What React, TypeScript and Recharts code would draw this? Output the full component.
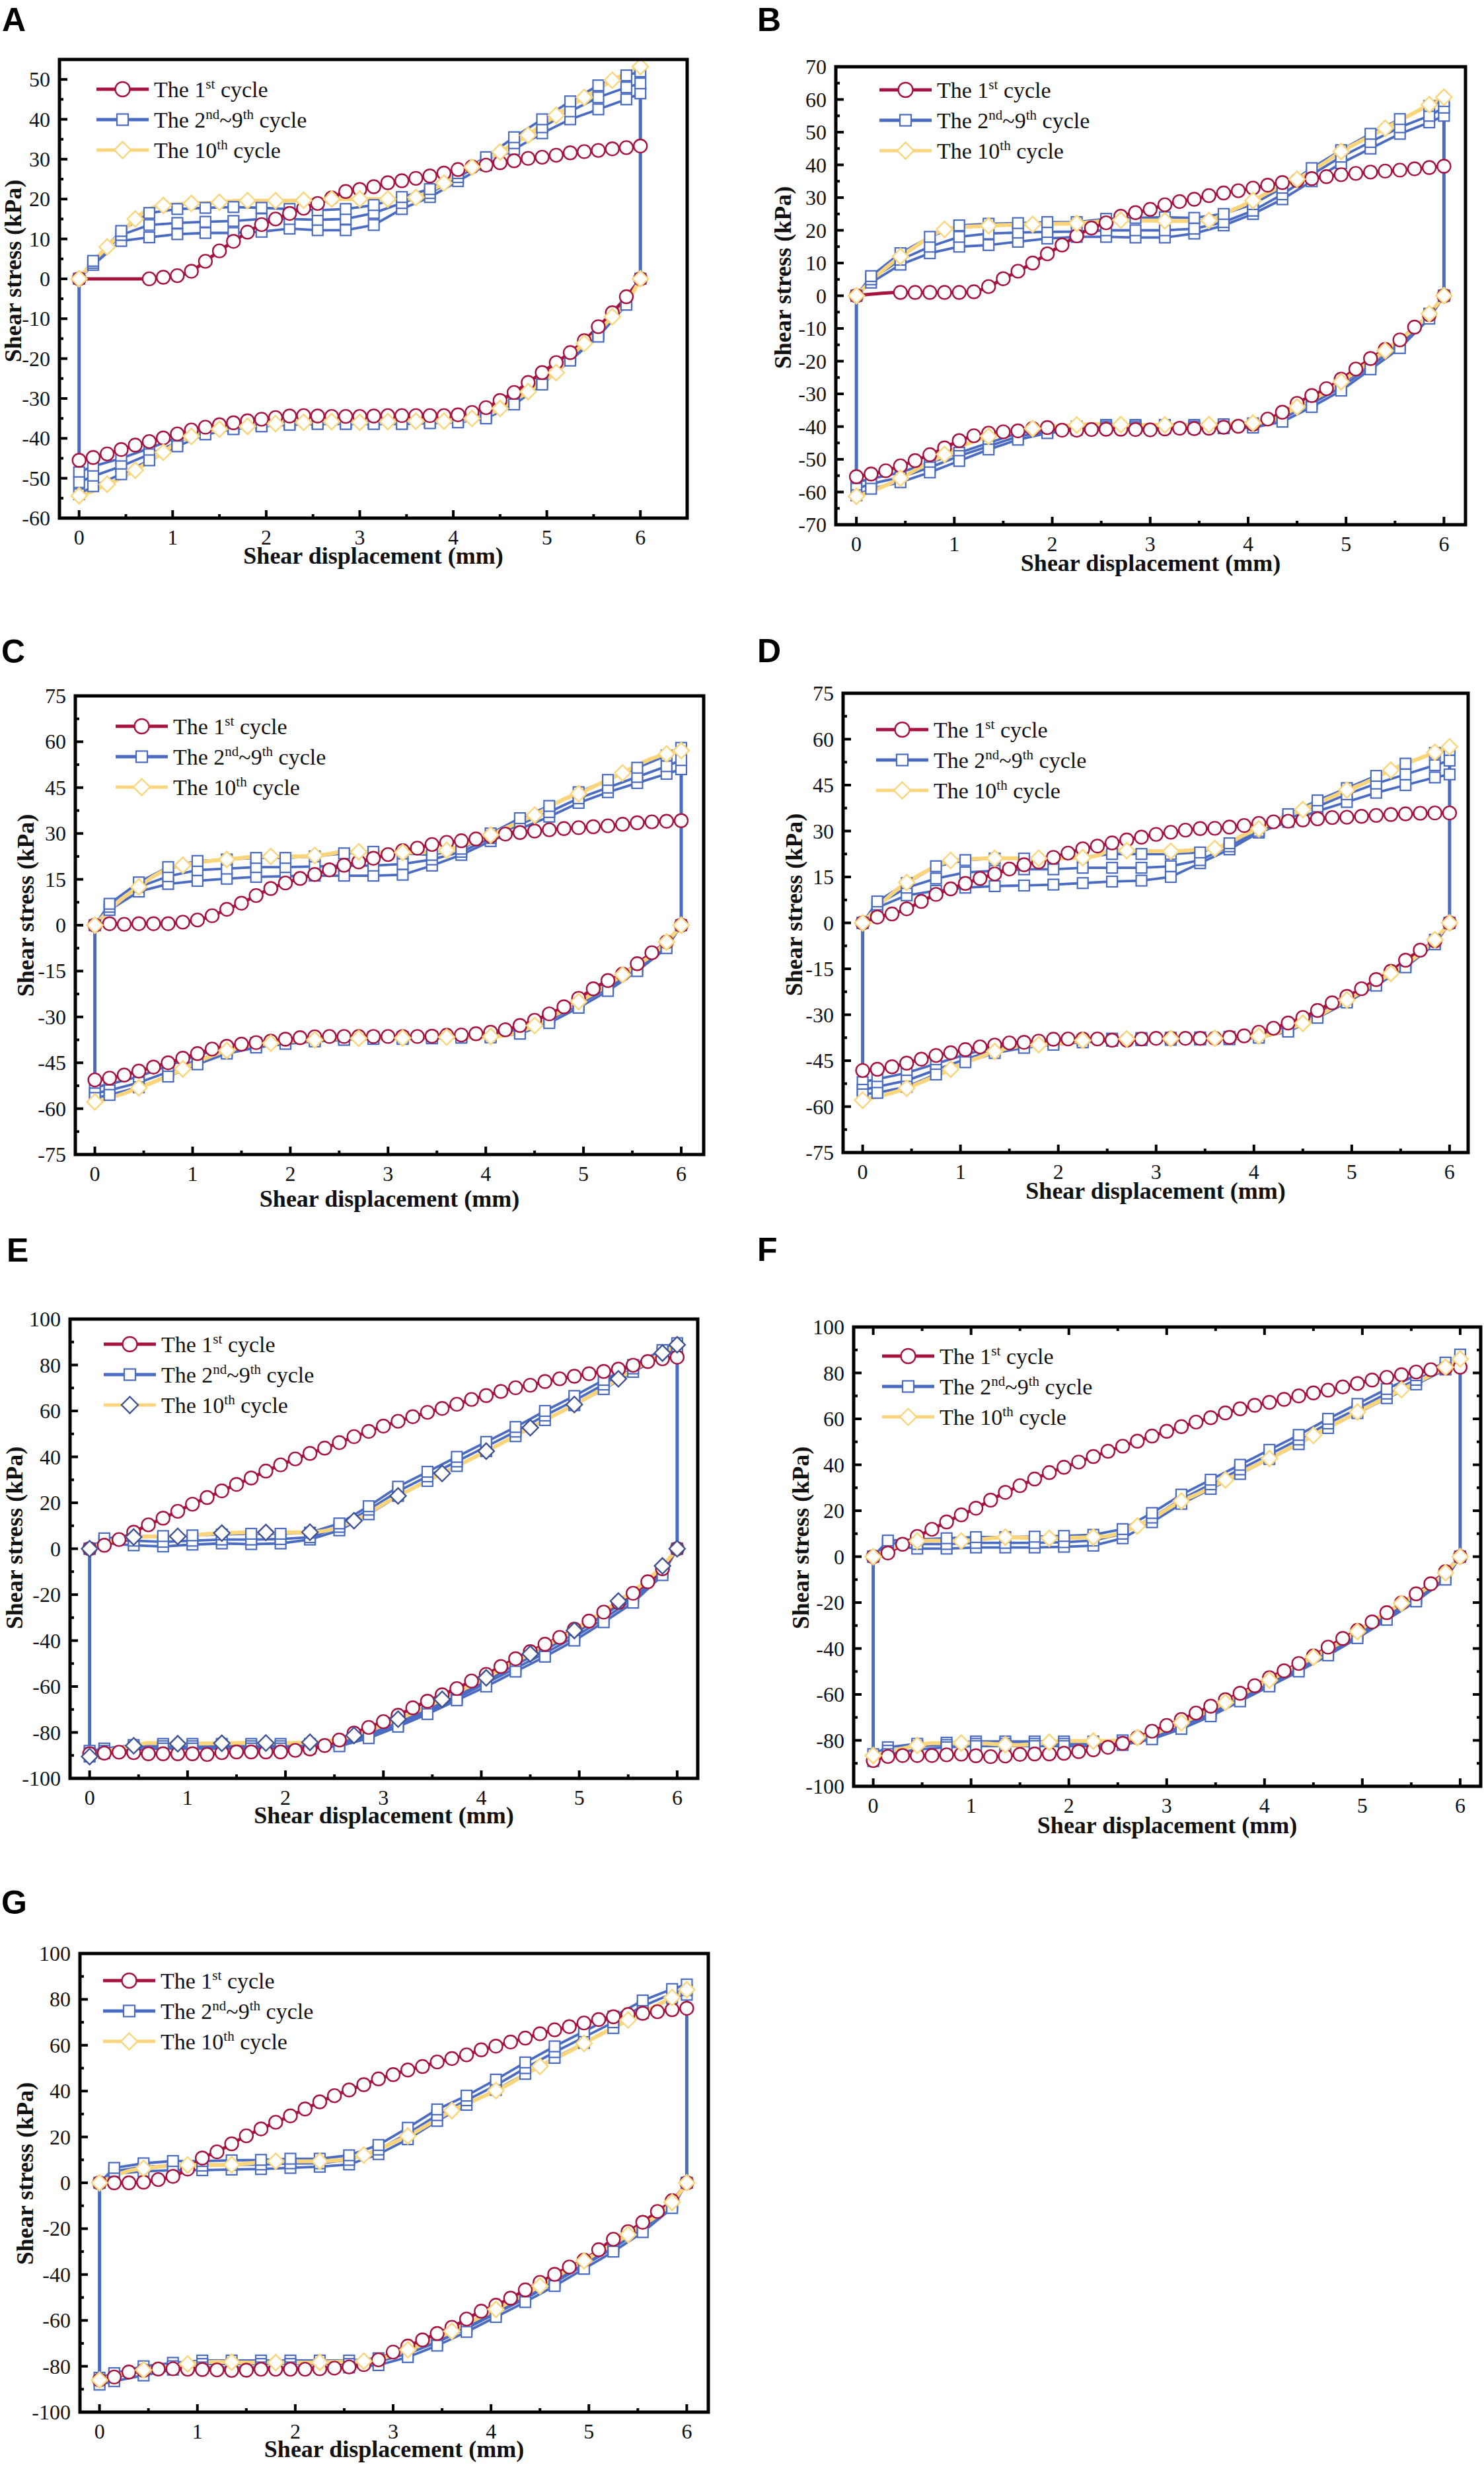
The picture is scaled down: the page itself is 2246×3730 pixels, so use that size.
import React from 'react';
import { LineChart, Line, XAxis, YAxis } from 'recharts';

const RED = '#A6133F';
const BLUE = '#4A6BC2';
const YEL = '#FAD57C';
const DIA_DARK = '#3F5293';
const SERIF = "'Liberation Serif', 'Times New Roman', Times, serif";
const SANS = "'Liberation Sans', Arial, Helvetica, sans-serif";

// ---------- shared x grids and ticks ----------
const X15 = [0,0.15,0.3,0.45,0.6,0.75,0.9,1.05,1.2,1.35,1.5,1.65,1.8,1.95,2.1,2.25,2.4,2.55,2.7,2.85,3,3.15,3.3,3.45,3.6,3.75,3.9,4.05,4.2,4.35,4.5,4.65,4.8,4.95,5.1,5.25,5.4,5.55,5.7,5.85,6];
const XB = [0,0.15,0.45,0.75,1.05,1.35,1.65,1.95,2.25,2.55,2.85,3.15,3.45,3.75,4.05,4.35,4.65,4.95,5.25,5.55,5.85,6];
const X_RED_A = [0,0.75,0.9,1.05,1.2,1.35,1.5,1.65,1.8,1.95,2.1,2.25,2.4,2.55,2.7,2.85,3,3.15,3.3,3.45,3.6,3.75,3.9,4.05,4.2,4.35,4.5,4.65,4.8,4.95,5.1,5.25,5.4,5.55,5.7,5.85,6];
const X_RED_B = [0,0.45,0.6,0.75,0.9,1.05,1.2,1.35,1.5,1.65,1.8,1.95,2.1,2.25,2.4,2.55,2.7,2.85,3,3.15,3.3,3.45,3.6,3.75,3.9,4.05,4.2,4.35,4.5,4.65,4.8,4.95,5.1,5.25,5.4,5.55,5.7,5.85,6];
const X_TICKS = [0,0.5,1,1.5,2,2.5,3,3.5,4,4.5,5,5.5,6];
const Y_TICKS_A = [-60,-55,-50,-45,-40,-35,-30,-25,-20,-15,-10,-5,0,5,10,15,20,25,30,35,40,45,50];
const Y_TICKS_B = [-70,-65,-60,-55,-50,-45,-40,-35,-30,-25,-20,-15,-10,-5,0,5,10,15,20,25,30,35,40,45,50,55,60,65,70];
const Y_TICKS_CD = [-75,-67.5,-60,-52.5,-45,-37.5,-30,-22.5,-15,-7.5,0,7.5,15,22.5,30,37.5,45,52.5,60,67.5,75];
const Y_TICKS_EFG = [-100,-90,-80,-70,-60,-50,-40,-30,-20,-10,0,10,20,30,40,50,60,70,80,90,100];

// ---------- Panel A ----------
const A_RED_UP = [0,0,0.4,0.8,1.9,4.4,7,9.4,11.7,13.6,15,16.4,17.7,18.9,20.3,21.9,22.4,23.1,24.1,24.6,25.2,25.8,26.5,27.4,28.1,28.5,29.1,29.6,30.2,30.5,31,31.6,31.9,32.2,32.6,32.9,33.3];
const A_RED_LOW = [-45.5,-44.8,-43.9,-42.8,-41.7,-40.8,-39.9,-38.9,-37.9,-37.2,-36.6,-36.1,-35.6,-35.2,-34.8,-34.4,-34.3,-34.4,-34.5,-34.5,-34.5,-34.4,-34.3,-34.3,-34.3,-34.3,-34.3,-34.1,-33.5,-32.3,-30.5,-28.5,-26,-23.5,-21,-18.5,-15.5,-12,-8.5,-4.5,0];
const A_Y10_UP = [0,4.3,8,11.5,15,17.5,18.4,18.7,18.9,19,19.2,19.5,19.6,19.6,19.6,19.6,19.7,19.9,20,20,20,20,20,20,20.4,22,24,26.5,28,30,31.8,34,36,38.6,41,43.3,45.5,47.6,49.8,51.5,53.2];
const A_Y10_LOW = [-54.4,-53.2,-51.5,-50,-48,-45.8,-43.5,-41,-39.5,-38.3,-37.7,-37.3,-37,-36.8,-36.3,-36,-36,-36,-35.8,-35.8,-36,-36,-35.8,-35.7,-35.7,-35.7,-35.7,-35.6,-35,-34.3,-32.5,-30.5,-28.3,-25.8,-23.5,-19.5,-16.2,-13.2,-9.5,-6,0];
const A_B1_UP = [0,3.5,9.5,10.4,11.2,11.5,11.5,11.8,12.6,12.2,12.2,13.5,17.5,20.5,24.5,28.5,32.5,36.5,40,42.5,45,46.5];
const A_B2_UP = [0,4,11,13.5,14,14.3,14.5,15,15,14.8,15,16.5,19,21.5,25.5,29.5,34,38,42,45.5,48,49];
const A_B3_UP = [0,4.5,12,16.5,17.5,17.8,18,17.8,17.5,17.2,17.5,18.5,20.5,22.5,26.5,30.5,35.5,40,44.5,48.5,51,52];
const A_B1_LOW = [-48.5,-47,-45,-42.5,-39.8,-38,-37.2,-36.6,-36.3,-36,-36,-36,-36,-35.8,-35.5,-34,-30.5,-25.5,-19.5,-13.5,-5.5,0];
const A_B2_LOW = [-51,-49.5,-47,-44,-41,-38.5,-37.4,-36.8,-36.4,-36.2,-36.2,-36.2,-36.2,-36,-35.8,-34.5,-31,-26,-20,-14,-6,0];
const A_B3_LOW = [-54,-52,-49,-45.5,-42,-39,-37.7,-37,-36.6,-36.4,-36.4,-36.4,-36.4,-36.2,-36,-35,-31.5,-26.5,-20.5,-14.5,-6.5,0];

// ---------- Panel B ----------
const B_RED_UP = [0,1,1,1,1,1,1.2,2.8,5.2,7.5,10,12.8,15.5,18.3,20.7,22.3,24.3,25.4,26.4,27.8,28.8,29.5,30.6,31.4,32.1,32.9,33.8,34.6,35.2,35.8,36.4,37,37.4,37.8,38.1,38.4,38.8,39.2,39.6];
const B_RED_LOW = [-55.3,-54.5,-53.5,-52,-50.4,-48.6,-46.5,-44.3,-42.8,-42,-41.6,-41.3,-40.6,-40.3,-41.1,-41.1,-40.9,-40.8,-40.8,-40.9,-41,-40.7,-40.5,-40.6,-40.5,-40.2,-39.9,-39.3,-37.7,-35.6,-32.9,-30.5,-28.4,-25.5,-22.4,-19.2,-16.4,-13.5,-9.6,-5.8,0];
const B_Y10_UP = [0,4.5,8.5,12,15,18,20.3,20.9,21.2,21.4,21.6,21.7,21.8,21.9,22,22.1,22.5,22.9,23.1,23,23,22.9,22.9,22.9,23,25,27,29.1,31.5,33.5,35.6,38.3,41,44.1,46.5,48.8,51.2,53.6,56,58.4,60.7];
const B_Y10_LOW = [-61.3,-59.8,-58,-55.8,-53.3,-51,-48.5,-46.2,-44.5,-43,-41.6,-41,-40.6,-40.1,-39.8,-39.5,-39.3,-39.3,-39.4,-39.5,-39.5,-39.5,-39.5,-39.4,-39.4,-39.2,-39.1,-38.9,-38.5,-36.5,-34,-31.6,-29.5,-26.3,-23.2,-20,-16.8,-13.3,-10,-5.5,0];
const B_B1_UP = [0,4,9.5,13,15,15.5,16.5,17.5,18,18,17.8,17.8,19,21.5,25,29.5,35,40.5,45,49.5,53,55];
const B_B2_UP = [0,5,11,15,18,19,19.3,19.5,19.6,20,20,20,20.5,22.5,26,31,37,42.5,47,51.5,55,57.5];
const B_B3_UP = [0,6,13,18,21.5,22,22.2,22.5,22.5,23.5,23.8,24,23.8,25,28,33,39,44.5,49.5,54,58,59.5];
const B_B1_LOW = [-57,-56,-54,-51,-48,-45,-42,-41,-40,-39.5,-39.5,-39.5,-39.5,-39.3,-39,-36.5,-32,-27,-20.5,-14,-5.5,0];
const B_B2_LOW = [-59,-57.5,-55.5,-52.5,-49,-46,-43,-41.5,-40.5,-40,-40,-40,-40,-40,-39.8,-37.5,-33,-28,-21.5,-15,-6,0];
const B_B3_LOW = [-61,-59,-57,-54,-50.5,-47,-44,-42,-41,-40.5,-40.5,-40.5,-40.5,-40.5,-40.3,-38.5,-34,-29,-22.5,-16,-7,0];

// ---------- Panel C ----------
const C_RED_UP = [0,0.5,0.3,0.5,0.5,0.5,1,1.7,3.1,5.2,7.2,9.7,12,13.8,15.3,16.6,18.1,19.6,20.7,21.9,23.1,24.4,25.2,26.4,27.1,27.6,28.2,29.1,29.8,30.3,30.8,31.2,31.6,31.9,32.2,32.5,33,33.5,33.8,34,34.2];
const C_RED_LOW = [-50.6,-50,-49,-47.7,-46.4,-45,-43.5,-42,-40.5,-39.6,-38.9,-38.4,-37.9,-37.3,-36.8,-36.5,-36.4,-36.4,-36.4,-36.4,-36.4,-36.4,-36.4,-36.3,-36,-35.9,-35.5,-35,-34.2,-32.8,-31.1,-29,-26.7,-23.9,-20.8,-18.1,-16,-12.6,-9,-5.5,0];
const C_Y10_UP = [0,5,9.2,12.5,16,18.4,19.6,20.5,21.1,21.5,22,22.4,22.5,22.5,22.5,22.8,23.3,24.1,24,23.9,23.8,23.8,23.8,24,24.5,26,27.5,29.5,31.7,33.9,36,38.7,41.2,43,45.3,47.5,49.8,52.3,54.5,56,57.1];
const C_Y10_LOW = [-57.8,-56.5,-55,-53.2,-51.3,-49.3,-47,-44.7,-42.6,-41,-39.8,-39.1,-38.6,-38.1,-37.8,-37.5,-37.2,-37,-37,-37,-37,-36.9,-36.7,-36.6,-36.6,-36.6,-36.6,-36.4,-36,-34.8,-32.8,-30.2,-27.8,-25,-22.4,-19.5,-16.2,-13,-9.8,-5.5,0];
const C_B1_UP = [0,5,11,13.5,14.5,15.2,15.8,16,16.2,16.2,16.2,16.5,19.5,23,27.5,31.5,35.5,40,43.5,46.5,49.5,51];
const C_B2_UP = [0,6,12.5,16,18,18.5,19,19,19.2,19.5,19.5,20,21.5,24,28.5,33,37,41.5,45,48.5,52,54];
const C_B3_UP = [0,7,14,19,21,21.5,22,22,22.5,23.5,24,23.5,23,25,30,35,39,43.5,47.5,51.5,55.5,58];
const C_B1_LOW = [-53,-52,-49.5,-46,-42.5,-40,-38.5,-37.5,-37,-36.8,-36.6,-36.6,-36.5,-36.3,-36,-34,-30,-25,-19.5,-13.5,-6,0];
const C_B2_LOW = [-55,-54,-51.5,-48,-44,-41,-39.5,-38.2,-37.6,-37.2,-37,-37,-36.8,-36.6,-36.4,-35,-31,-26,-20.5,-14.5,-7,0];
const C_B3_LOW = [-56.5,-55.5,-53,-49.5,-45.5,-42,-40,-38.8,-38,-37.5,-37.2,-37.2,-37,-36.8,-36.7,-35.5,-32,-27,-21.5,-15,-7.5,0];

// ---------- Panel D ----------
const D_RED_UP = [0,1.9,2.9,4.6,7,9.3,11.1,12.9,14.5,16,17.6,19,19.9,21.4,22.8,24.2,25.1,26.1,27.1,28,28.9,29.6,30.3,30.8,30.9,31.3,31.8,32.5,33,33.2,33.6,34,34.4,34.5,34.8,35.1,35.4,35.6,35.8,35.9,35.9];
const D_RED_LOW = [-48.2,-47.8,-47,-45.8,-44.5,-43.3,-42.4,-41.4,-40.5,-39.9,-39.2,-39,-38.6,-38,-37.9,-37.9,-37.9,-38.3,-38.3,-37.9,-37.7,-37.7,-37.7,-37.7,-37.7,-37.4,-36.9,-35.7,-34.4,-32.7,-30.9,-28.6,-26.1,-24,-21.5,-18.5,-15.8,-12.2,-8.9,-5.9,0];
const D_Y10_UP = [0,5,9.5,13.2,16,18.5,20.4,20.8,21,21.1,21.1,21.1,21.1,21.1,21.2,21.3,22,23.8,23.6,23.5,23.4,23.4,23.6,24,24.3,26.3,28.8,30.7,33,35,37,39.2,41.2,43.4,45.2,47.5,49.9,52,53.8,55.7,57.5];
const D_Y10_LOW = [-57.9,-56.8,-55.5,-54,-52,-50,-47.8,-45.6,-43.8,-42,-40.8,-40.2,-39.8,-39.6,-39,-38.4,-37.9,-37.9,-37.9,-37.9,-37.8,-37.8,-37.7,-37.7,-37.7,-37.7,-37.3,-37,-36.3,-34.6,-32.8,-30.6,-27.8,-25.2,-22.5,-19.5,-16.5,-13.5,-10,-5.5,0];
const D_B1_UP = [0,5,9,10.5,11.5,12,12.2,12.5,13,13.5,13.8,15,19.5,24,29.5,33,36.5,39.5,42.5,45,47.5,48.5];
const D_B2_UP = [0,6,11.5,14.5,16.5,17,17.5,17.5,18,18,18,18.5,20.5,25,30,34,38,42,45.5,48.5,51.5,53];
const D_B3_UP = [0,7,13,18.5,20.5,21,21,21,21.5,22.5,22.5,22.5,23,26,31,35.5,40,44,48,52,55.5,56.5];
const D_B1_LOW = [-52,-51,-49,-46,-43,-40.5,-39.5,-38.8,-38.2,-37.8,-37.6,-37.5,-37.4,-37.2,-36.5,-34,-29.5,-24.5,-19,-13,-5.5,0];
const D_B2_LOW = [-54.5,-53.5,-51.5,-48,-44.5,-41.5,-40.2,-39.3,-38.6,-38.2,-38,-37.8,-37.8,-37.6,-37,-35,-30.5,-25.5,-20,-14,-6.5,0];
const D_B3_LOW = [-56,-55.5,-53.5,-49.5,-45.5,-42.5,-40.8,-39.8,-39,-38.5,-38.3,-38.2,-38.1,-38,-37.5,-35.5,-31,-26,-20.5,-14.5,-7,0];

// ---------- Panel E ----------
const E_RED_UP = [0,1.5,4,7.2,10.4,13.3,16.3,19.4,22.3,25.2,28,30.8,33.8,36.5,39.1,41.5,43.8,46.2,48.8,51.1,53.4,55.5,57.5,59.4,61.1,62.9,65,66.7,68.5,70.1,71.2,72.8,74,75.1,76.2,77.2,78.2,79.9,81.5,82.7,83.4];
const E_RED_LOW = [-89.3,-89,-88.6,-88.8,-89.3,-89.3,-89.3,-89.3,-89.6,-88.8,-88.5,-88.5,-88.5,-88.5,-87.8,-87.2,-85.7,-83.3,-80.3,-77.8,-75.3,-72.5,-69.3,-66.4,-63.6,-60.9,-57.6,-54.7,-51.3,-47.9,-44.8,-41.6,-38.6,-35,-31.5,-27.6,-23.4,-19.4,-14.4,-8.7,0];
const E_Y10_UP = [0,2.5,4.3,5.1,5.3,5.4,5.4,5.8,6.4,6.8,7,7.1,7.1,7.1,7.1,7.2,7.8,9.5,12.2,15.5,19.5,23,26.3,29.6,32.8,36,39.2,42.5,45.8,49.3,52.7,56,59.3,62.8,66.3,70,74,77.8,81.5,85.2,88.8];
const E_Y10_LOW = [-90.5,-88.3,-87,-85.8,-84.6,-84.7,-84.9,-84.9,-84.8,-84.7,-84.6,-84.6,-84.6,-84.6,-84.5,-84.3,-83.9,-83,-81.3,-79.2,-76.8,-74.2,-71.5,-68.6,-65.6,-62.5,-59.4,-56.2,-52.5,-49,-45.8,-42.4,-39,-35.6,-31.2,-27.2,-22.8,-18.5,-13.5,-7.5,0];
const E_B1_UP = [0,2.5,1.5,1,1.8,2.3,2,2.3,4,8,15,23,29.5,36,42.5,49,56,62.5,69.5,77,84,87];
const E_B2_UP = [0,3.5,3.5,3,3.5,4,4,4.2,5,9.5,17,25,31.5,38,44.5,51,58,64.5,71.5,78.5,85.5,88];
const E_B3_UP = [0,4.5,5.5,5.5,5.8,6.2,6.5,6.5,7,11,18.5,27,33.5,40,46.5,53,60,66.5,73.5,80,86.5,89.5];
const E_B1_LOW = [-88,-87,-85.5,-85,-85,-85,-85,-85,-85,-84,-80.5,-75.5,-70,-64,-57.5,-50.5,-44,-37,-29,-20.5,-9.5,0];
const E_B2_LOW = [-89,-88,-86.5,-86,-86,-86,-86,-86,-86,-85,-81.5,-76.5,-71,-65,-58.5,-52,-45.5,-38.5,-30.5,-22,-10.5,0];
const E_B3_LOW = [-90.5,-89,-87.5,-87,-87,-87,-87,-87,-87,-86,-82.5,-77.5,-72,-66,-60,-53.5,-47,-40,-32,-23.5,-11.5,0];

// ---------- Panel F ----------
const F_RED_UP = [0,1.6,5.4,8.8,11.9,15.1,18.2,21.1,24.6,28,30.9,33.8,36.6,38.9,41.2,43.6,45.9,48.1,50.3,52.5,54.6,56.6,58.6,60.5,62.6,64.4,65.9,67.2,68.5,70,71.3,72.5,73.9,75.4,76.9,78.1,79.2,80.4,81.4,82.1,82.5];
const F_RED_LOW = [-88.8,-87,-86.6,-86.6,-86.6,-86.3,-86,-86.7,-87.1,-86.8,-86.1,-85.9,-85.9,-85.6,-84.9,-84.1,-83,-81.3,-78.8,-76,-73.5,-70.9,-68.1,-65.1,-62.3,-59.5,-56.2,-52.7,-49.7,-46.5,-43.2,-39.4,-35.6,-32.1,-28.4,-24.4,-20.1,-16.2,-11.8,-6.5,0];
const F_Y10_UP = [0,3,5.3,6.8,7,6.9,6.8,7.3,8,8.5,8.3,8.1,8,8.1,8.3,8.5,9,10.8,13.3,16.5,20.5,24.2,27,30.2,33.4,36.5,39.6,42.7,46,49.3,52.8,56.3,59.5,63,66.2,69.5,72.7,75.8,79,82.5,86.1];
const F_Y10_LOW = [-86.6,-85,-83.5,-82.2,-81.2,-81.2,-81.2,-81.2,-81.5,-81.9,-82,-81.5,-80.8,-80.3,-80.3,-80.3,-80.3,-79.8,-78.8,-77.3,-75,-72.3,-69.6,-66.6,-63.5,-60.3,-57.1,-53.8,-50.5,-47.2,-43.8,-40.3,-36.8,-32.6,-28.2,-24.3,-20.3,-16.5,-12.6,-7,0];
const F_B1_UP = [0,5,3.5,3.5,4,4,4,4.3,4.8,8,15,23,29.5,36,42.5,49,56,62.5,69,75,81.5,84];
const F_B2_UP = [0,6,5.5,5.5,6,6,6,6.3,7,10,17,25,31.5,38,44.5,51,58,64.5,71,77,83,86];
const F_B3_UP = [0,7,7.5,8,8.5,8.5,8.7,9,9.5,12,19,27,33.5,40,46.5,53,60,66.5,73,79,84.5,88];
const F_B1_LOW = [-86,-83,-81.5,-81,-80.5,-80.5,-80.5,-80.5,-80.5,-80,-77.5,-73,-67.5,-61,-54.5,-48,-41,-33.5,-25.5,-17.5,-8,0];
const F_B2_LOW = [-87.5,-84.5,-82.5,-82,-81.5,-81.5,-81.5,-81.5,-81.5,-81,-78.5,-74,-68.5,-62,-55.5,-49,-42,-34.5,-26.5,-18.5,-9,0];
const F_B3_LOW = [-89,-86,-84,-83,-82.5,-82.5,-82.5,-82.5,-82.5,-82,-79.5,-75,-69.5,-63,-56.5,-50,-43,-35.5,-27.5,-19.5,-10,0];

// ---------- Panel G ----------
const G_RED_UP = [0,0,0,0.3,1.4,2.8,6,10.8,13.5,17,20.5,23.5,26.4,29.2,32.2,35.3,38,40.5,42.8,45.3,47.2,49.2,50.7,52.7,54.2,55.8,58,59.6,61.4,63.1,65,66.7,68.1,69.7,71.2,72.4,73.4,73.9,74.6,75.5,76.1];
const G_RED_LOW = [-86,-84.7,-82.5,-81.8,-81.2,-81.1,-81.3,-81.4,-81.6,-81.8,-81.7,-81.3,-81.3,-81.3,-81.3,-81.1,-80.8,-80.3,-79.3,-77.2,-73.8,-71.2,-68.5,-65.7,-63,-59.4,-56,-53.4,-50.3,-46.7,-43.4,-39.9,-36.7,-33.7,-29.2,-24.6,-21.3,-17.2,-12.5,-7.8,0];
const G_Y10_UP = [0,3,5.2,6.3,7,7.5,7.8,7.8,7.8,7.9,8.4,9,9.4,9.4,9.4,9.4,9.7,10.6,12.1,14.5,17.5,20.4,24,27.8,31.5,34.5,37.3,40.2,43.5,47.3,50.8,54,57.3,60.8,64.3,67.6,71,74.2,77.5,80.8,84.2];
const G_Y10_LOW = [-86,-84.2,-82.8,-81.6,-80.7,-79.8,-79,-78.3,-78.1,-78.2,-78.4,-78.4,-78.4,-78.4,-78.4,-78.3,-78.1,-78,-77.8,-76.9,-75,-72.8,-70.3,-67.7,-64.7,-61.5,-58.3,-55.2,-51.8,-48.5,-45,-41.3,-37.6,-34,-30.2,-26.6,-22.6,-18.3,-14.2,-8.5,0];
const G_B1_UP = [0,4,5,5.5,5.5,5.8,6,6.5,7,8,12.5,19,27,34,40.5,47.5,54.5,61,67.5,74,80.5,82];
const G_B2_UP = [0,5,7,7.5,7.5,7.8,8,8.5,8.5,10,14.5,21.5,29.5,36,42.5,50,57,63.5,70,77,82.5,84];
const G_B3_UP = [0,6.5,8.5,9.5,9.5,9.8,10,10.5,10.5,12,16.5,24,32,38,45,52.5,59.5,66,72.5,79.5,84.5,86.5];
const G_B1_LOW = [-85,-83,-80,-78.5,-77.5,-77.5,-77.5,-77.5,-77.5,-77.5,-76.5,-73,-68.5,-62.5,-56,-49.5,-42.5,-35,-27.5,-19,-9,0];
const G_B2_LOW = [-86.5,-85,-82,-80,-79,-79,-79,-79,-79,-79,-78,-74.5,-69.5,-63.5,-57,-50.5,-43.5,-36,-28.5,-20,-10,0];
const G_B3_LOW = [-88,-86.5,-84,-81.5,-80.5,-80.5,-80.5,-80.5,-80.5,-80.5,-79.5,-76,-71,-65,-58.5,-52,-45,-37.5,-30,-21.5,-11,0];

const X_LABEL = 'Shear displacement (mm)';
const Y_LABEL = 'Shear stress (kPa)';

type Pt = { x: number; y: number };
const pts = (xs: number[], ys: number[]): Pt[] => xs.map((x, i) => ({ x, y: ys[i] }));

type PanelCfg = {
  id: string;
  box: number[];
  xd: number[];
  yd: number[];
  yt: number[];
  major: number;
  lab: number[];
  ytitle: number[];
  xty: number;
  leg: number[];
  mirror: boolean;
  yEvery: number;
  diaStroke: string;
  redUp: Pt[];
  redLow: Pt[];
  yelUp: Pt[];
  yelLow: Pt[];
  blueUp: number[][];
  blueLow: number[][];
};

const PANELS: PanelCfg[] = [
  { id: 'A', box: [90, 90, 1040, 784], xd: [-0.21, 6.5], yd: [-60, 55], yt: Y_TICKS_A, major: 10, lab: [3, 47], ytitle: [20, 410], xty: 842, leg: [146, 135], mirror: false, yEvery: 2, diaStroke: YEL,
    redUp: pts(X_RED_A, A_RED_UP), redLow: pts(X15, A_RED_LOW), yelUp: pts(X15, A_Y10_UP), yelLow: pts(X15, A_Y10_LOW),
    blueUp: [A_B1_UP, A_B2_UP, A_B3_UP], blueLow: [A_B1_LOW, A_B2_LOW, A_B3_LOW] },
  { id: 'B', box: [1265, 101, 2218, 794], xd: [-0.21, 6.22], yd: [-70, 70], yt: Y_TICKS_B, major: 10, lab: [1146, 47], ytitle: [1185, 420], xty: 853, leg: [1331, 136], mirror: false, yEvery: 3, diaStroke: YEL,
    redUp: pts(X_RED_B, B_RED_UP), redLow: pts(X15, B_RED_LOW), yelUp: pts(X15, B_Y10_UP), yelLow: pts(X15, B_Y10_LOW),
    blueUp: [B_B1_UP, B_B2_UP, B_B3_UP], blueLow: [B_B1_LOW, B_B2_LOW, B_B3_LOW] },
  { id: 'C', box: [114, 1053, 1065, 1747], xd: [-0.2, 6.23], yd: [-75, 75], yt: Y_TICKS_CD, major: 15, lab: [2, 1003], ytitle: [39, 1370], xty: 1815, leg: [175, 1099], mirror: false, yEvery: 3, diaStroke: YEL,
    redUp: pts(X15, C_RED_UP), redLow: pts(X15, C_RED_LOW), yelUp: pts(X15, C_Y10_UP), yelLow: pts(X15, C_Y10_LOW),
    blueUp: [C_B1_UP, C_B2_UP, C_B3_UP], blueLow: [C_B1_LOW, C_B2_LOW, C_B3_LOW] },
  { id: 'D', box: [1276, 1049, 2222, 1744], xd: [-0.2, 6.19], yd: [-75, 75], yt: Y_TICKS_CD, major: 15, lab: [1146, 1002], ytitle: [1202, 1369], xty: 1803, leg: [1326, 1104], mirror: false, yEvery: 3, diaStroke: YEL,
    redUp: pts(X15, D_RED_UP), redLow: pts(X15, D_RED_LOW), yelUp: pts(X15, D_Y10_UP), yelLow: pts(X15, D_Y10_LOW),
    blueUp: [D_B1_UP, D_B2_UP, D_B3_UP], blueLow: [D_B1_LOW, D_B2_LOW, D_B3_LOW] },
  { id: 'E', box: [106, 1996, 1056, 2691], xd: [-0.2, 6.21], yd: [-100, 100], yt: Y_TICKS_EFG, major: 20, lab: [10, 1909], ytitle: [22, 2327], xty: 2748, leg: [157, 2034], mirror: false, yEvery: 3, diaStroke: DIA_DARK,
    redUp: pts(X15, E_RED_UP), redLow: pts(X15, E_RED_LOW), yelUp: pts(X15, E_Y10_UP), yelLow: pts(X15, E_Y10_LOW),
    blueUp: [E_B1_UP, E_B2_UP, E_B3_UP], blueLow: [E_B1_LOW, E_B2_LOW, E_B3_LOW] },
  { id: 'F', box: [1292, 2008, 2241, 2703], xd: [-0.2, 6.21], yd: [-100, 100], yt: Y_TICKS_EFG, major: 20, lab: [1146, 1908], ytitle: [1212, 2327], xty: 2763, leg: [1335, 2052], mirror: true, yEvery: 3, diaStroke: YEL,
    redUp: pts(X15, F_RED_UP), redLow: pts(X15, F_RED_LOW), yelUp: pts(X15, F_Y10_UP), yelLow: pts(X15, F_Y10_LOW),
    blueUp: [F_B1_UP, F_B2_UP, F_B3_UP], blueLow: [F_B1_LOW, F_B2_LOW, F_B3_LOW] },
  { id: 'G', box: [121, 2956, 1072, 3650], xd: [-0.2, 6.22], yd: [-100, 100], yt: Y_TICKS_EFG, major: 20, lab: [2, 2896], ytitle: [38, 3289], xty: 3707, leg: [156, 2997], mirror: false, yEvery: 3, diaStroke: YEL,
    redUp: pts(X15, G_RED_UP), redLow: pts(X15, G_RED_LOW), yelUp: pts(X15, G_Y10_UP), yelLow: pts(X15, G_Y10_LOW),
    blueUp: [G_B1_UP, G_B2_UP, G_B3_UP], blueLow: [G_B1_LOW, G_B2_LOW, G_B3_LOW] },
];

const circleDot = (p: any) => {
  if (p.cx == null || p.cy == null) return <g key={`c${p.index}`} />;
  return <circle key={`c${p.index}`} cx={p.cx} cy={p.cy} r={10} fill="#fff" stroke={RED} strokeWidth={2.4} />;
};
const squareDot = (p: any) => {
  if (p.cx == null || p.cy == null) return <g key={`s${p.index}`} />;
  return <rect key={`s${p.index}`} x={p.cx - 8} y={p.cy - 8} width={16} height={16} fill="#fff" stroke={BLUE} strokeWidth={2.2} />;
};
const diamondDot = (every: number, last: number, stroke: string) => (p: any) => {
  if (p.cx == null || p.cy == null || (p.index % every !== 0 && p.index !== last)) return <g key={`d${p.index}`} />;
  const r = 12;
  return (
    <polygon key={`d${p.index}`} points={`${p.cx},${p.cy - r} ${p.cx + r},${p.cy} ${p.cx},${p.cy + r} ${p.cx - r},${p.cy}`}
      fill="#fff" stroke={stroke} strokeWidth={2.4} />
  );
};

function Panel({ c }: { c: PanelCfg }) {
  const [L, T, R, B] = c.box;
  const W = R - L;
  const H = B - T;
  const PL = 110, PT = 20, PR = 5, PB = 60;
  const bottom = PT + H;
  const right = PL + W;
  const tickText = { fontFamily: SERIF, fontSize: 32, fill: '#111' };

  const xTick = (p: any) => {
    const v = p.payload.value;
    const x = p.x;
    const major = Math.abs(v - Math.round(v)) < 1e-6;
    const len = major ? 12 : 6;
    return (
      <g key={`xt${v}`}>
        <line x1={x} x2={x} y1={bottom} y2={bottom - len} stroke="#000" strokeWidth={4} />
        {c.mirror && <line x1={x} x2={x} y1={PT} y2={PT + len} stroke="#000" strokeWidth={4} />}
        {major && <text x={x} y={bottom + 40} textAnchor="middle" {...tickText}>{v}</text>}
      </g>
    );
  };
  const yTick = (p: any) => {
    const v = p.payload.value;
    const y = p.y;
    const major = Math.abs(v % c.major) < 1e-6;
    const len = major ? 12 : 6;
    return (
      <g key={`yt${v}`}>
        <line x1={PL} x2={PL + len} y1={y} y2={y} stroke="#000" strokeWidth={4} />
        {c.mirror && <line x1={right} x2={right - len} y1={y} y2={y} stroke="#000" strokeWidth={4} />}
        {major && <text x={PL - 14} y={y + 11} textAnchor="end" {...tickText}>{v}</text>}
      </g>
    );
  };

  const lowMin = Math.min(...c.blueLow.map((a) => a[0]), c.yelLow[0].y);
  const upMax = Math.max(...c.blueUp.map((a) => a[a.length - 1]));
  const vLeft = [{ x: 0, y: lowMin }, { x: 0, y: 0 }];
  const vRight = [{ x: 6, y: upMax }, { x: 6, y: 0 }];
  const yDot = diamondDot(c.yEvery, X15.length - 1, c.diaStroke);

  return (
    <div style={{ position: 'absolute', left: L - PL, top: T - PT }}>
      <LineChart width={W + PL + PR} height={H + PT + PB} margin={{ top: PT, right: PR, left: 0, bottom: 0 }}>
        <XAxis type="number" dataKey="x" domain={c.xd} ticks={X_TICKS} interval={0} allowDataOverflow
          tickLine={false} axisLine={false} height={PB} tick={xTick} />
        <YAxis type="number" dataKey="y" domain={c.yd} ticks={c.yt} interval={0} allowDataOverflow
          tickLine={false} axisLine={false} width={PL} tick={yTick} />
        {c.blueUp.map((ys, i) => (
          <Line key={`bu${i}`} data={pts(XB, ys)} dataKey="y" type="linear" stroke={BLUE} strokeWidth={3.8}
            dot={squareDot} activeDot={false} isAnimationActive={false} />
        ))}
        {c.blueLow.map((ys, i) => (
          <Line key={`bl${i}`} data={pts(XB, ys)} dataKey="y" type="linear" stroke={BLUE} strokeWidth={3.8}
            dot={squareDot} activeDot={false} isAnimationActive={false} />
        ))}
        <Line data={vLeft} dataKey="y" type="linear" stroke={BLUE} strokeWidth={5} dot={false} activeDot={false} isAnimationActive={false} />
        <Line data={vRight} dataKey="y" type="linear" stroke={BLUE} strokeWidth={5} dot={false} activeDot={false} isAnimationActive={false} />
        <Line data={c.redUp} dataKey="y" type="monotone" stroke={RED} strokeWidth={5} dot={circleDot} activeDot={false} isAnimationActive={false} />
        <Line data={c.redLow} dataKey="y" type="monotone" stroke={RED} strokeWidth={5} dot={circleDot} activeDot={false} isAnimationActive={false} />
        <Line data={c.yelUp} dataKey="y" type="monotone" stroke={YEL} strokeWidth={6} dot={yDot} activeDot={false} isAnimationActive={false} />
        <Line data={c.yelLow} dataKey="y" type="monotone" stroke={YEL} strokeWidth={6} dot={yDot} activeDot={false} isAnimationActive={false} />
      </LineChart>
    </div>
  );
}

const LEGEND = [
  { key: 'r', color: RED, shape: 'circle', parts: [{ t: 'The 1' }, { t: 'st', sup: true }, { t: ' cycle' }] },
  { key: 'b', color: BLUE, shape: 'square', parts: [{ t: 'The 2' }, { t: 'nd', sup: true }, { t: '~9' }, { t: 'th', sup: true }, { t: ' cycle' }] },
  { key: 'y', color: YEL, shape: 'diamond', parts: [{ t: 'The 10' }, { t: 'th', sup: true }, { t: ' cycle' }] },
];

function LegendMarker({ shape, color, stroke, cx, cy }: { shape: string; color: string; stroke: string; cx: number; cy: number }) {
  if (shape === 'circle') return <circle cx={cx} cy={cy} r={11} fill="#fff" stroke={color} strokeWidth={2.4} />;
  if (shape === 'square') return <rect x={cx - 8.5} y={cy - 8.5} width={17} height={17} fill="#fff" stroke={color} strokeWidth={2.2} />;
  const r = 12.5;
  return <polygon points={`${cx},${cy - r} ${cx + r},${cy} ${cx},${cy + r} ${cx - r},${cy}`} fill="#fff" stroke={stroke} strokeWidth={2.4} />;
}

function Overlay() {
  return (
    <svg width={2246} height={3730} style={{ position: 'absolute', left: 0, top: 0, pointerEvents: 'none' }}>
      {PANELS.map((c) => {
        const [L, T, R, B] = c.box;
        const [lx, ly] = c.leg;
        return (
          <g key={c.id}>
            <rect x={L} y={T} width={R - L} height={B - T} fill="none" stroke="#000" strokeWidth={5} />
            <text x={c.lab[0]} y={c.lab[1]} fontFamily={SANS} fontWeight={700} fontSize={50} fill="#000">{c.id}</text>
            <text x={(L + R) / 2} y={c.xty + 11} textAnchor="middle" fontFamily={SERIF} fontWeight={700} fontSize={36} fill="#111">{X_LABEL}</text>
            <text transform={`translate(${c.ytitle[0] + 12},${c.ytitle[1]}) rotate(-90)`} textAnchor="middle" fontFamily={SERIF} fontWeight={700} fontSize={36} fill="#111">{Y_LABEL}</text>
            {LEGEND.map((row, i) => {
              const y = ly + i * 46;
              let shift = 0;
              return (
                <g key={row.key}>
                  <line x1={lx} x2={lx + 79} y1={y} y2={y} stroke={row.color} strokeWidth={5} />
                  <LegendMarker shape={row.shape} color={row.color} stroke={row.shape === 'diamond' ? c.diaStroke : row.color} cx={lx + 39.5} cy={y} />
                  <text x={lx + 87} y={y + 12} fontFamily={SERIF} fontSize={34} fill="#111">
                    {row.parts.map((p: any, j: number) => {
                      let dy = 0;
                      if (p.sup && shift === 0) { dy = -13; shift = -13; }
                      else if (!p.sup && shift !== 0) { dy = 13; shift = 0; }
                      return (
                        <tspan key={j} dy={dy} fontSize={p.sup ? 21 : 34}>{p.t}</tspan>
                      );
                    })}
                  </text>
                </g>
              );
            })}
          </g>
        );
      })}
    </svg>
  );
}

export default function App() {
  return (
    <div style={{ position: 'absolute', left: 0, top: 0, width: 2246, height: 3730, background: '#fff', overflow: 'hidden' }}>
      {PANELS.map((c) => (
        <Panel key={c.id} c={c} />
      ))}
      <Overlay />
    </div>
  );
}
